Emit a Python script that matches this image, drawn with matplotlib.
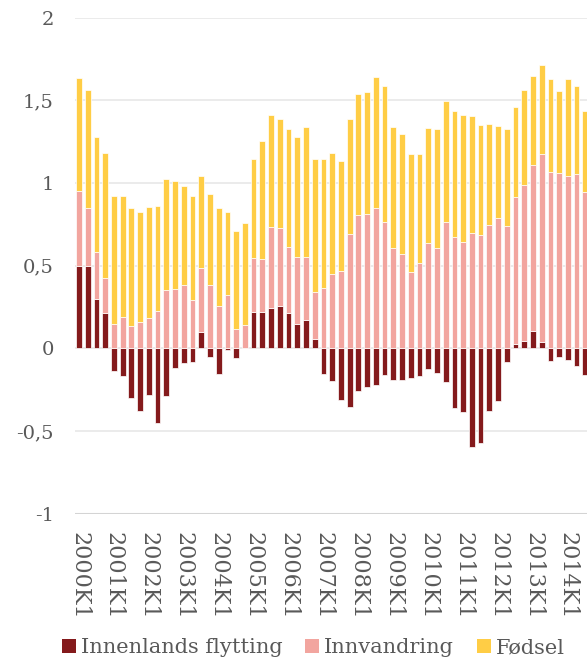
import matplotlib
matplotlib.use("Agg")
import matplotlib.pyplot as plt
from matplotlib.patches import Patch
import numpy as np

# Quarterly contributions to population growth, 2000K1 - 2014K3
years = list(range(2000, 2015))
quarters = [f"{y}K{q}" for y in years for q in (1, 2, 3, 4)][:59]

innenlands = [0.50, 0.50, 0.30, 0.215, -0.14, -0.17, -0.30, -0.38, -0.28, -0.45,
              -0.29, -0.12, -0.09, -0.085, 0.10, -0.05, -0.157, -0.012, -0.06, 0.0,
              0.22, 0.22, 0.244, 0.258, 0.214, 0.15, 0.17, 0.054, -0.155, -0.198,
              -0.315, -0.355, -0.26, -0.232, -0.224, -0.16, -0.194, -0.19, -0.177, -0.167,
              -0.125, -0.151, -0.206, -0.359, -0.387, -0.597, -0.575, -0.379, -0.32, -0.08,
              0.028, 0.046, 0.107, 0.038, -0.077, -0.05, -0.073, -0.105, -0.161]
innvandring = [0.454, 0.35, 0.285, 0.21, 0.145, 0.19, 0.137, 0.157, 0.185, 0.228,
               0.35, 0.36, 0.385, 0.29, 0.383, 0.385, 0.258, 0.32, 0.115, 0.14,
               0.325, 0.322, 0.49, 0.472, 0.397, 0.40, 0.385, 0.287, 0.367, 0.448,
               0.466, 0.69, 0.806, 0.815, 0.85, 0.766, 0.609, 0.573, 0.464, 0.516,
               0.639, 0.609, 0.762, 0.675, 0.643, 0.698, 0.685, 0.748, 0.79, 0.738,
               0.889, 0.94, 1.004, 1.139, 1.067, 1.058, 1.04, 1.056, 0.944]
fodsel = [0.679, 0.71, 0.693, 0.755, 0.778, 0.73, 0.71, 0.666, 0.67, 0.635,
          0.677, 0.65, 0.595, 0.63, 0.56, 0.548, 0.589, 0.506, 0.593, 0.62,
          0.60, 0.714, 0.68, 0.655, 0.718, 0.726, 0.783, 0.802, 0.778, 0.731,
          0.669, 0.70, 0.732, 0.737, 0.79, 0.82, 0.728, 0.725, 0.711, 0.659,
          0.694, 0.718, 0.732, 0.758, 0.768, 0.705, 0.666, 0.611, 0.555, 0.587,
          0.541, 0.577, 0.538, 0.539, 0.562, 0.50, 0.591, 0.531, 0.494]

series_names = ["Innenlands flytting", "Innvandring", "Fødsel"]
colors = ["#841a1c", "#f2a59f", "#ffcd45"]
yticks = [-1, -0.5, 0, 0.5, 1, 1.5, 2]
ytick_labels = ["-1", "-0,5", "0", "0,5", "1", "1,5", "2"]

plt.rcParams["font.family"] = ["DejaVu Serif"]
text_color = "#595959"

fig = plt.figure(figsize=(5.87, 6.59), dpi=100)
ax = fig.add_axes([0.1286, 0.2206, 1 - 0.1286, 0.9731 - 0.2206])

x = np.arange(len(quarters))
inn = np.array(innenlands)
imm = np.array(innvandring)
fod = np.array(fodsel)
base = np.clip(inn, 0, None)

w = 0.66
edge = dict(edgecolor="#ffffff", linewidth=0.5)
ax.bar(x, inn, width=w, color=colors[0], zorder=3, **edge)
ax.bar(x, imm, width=w, bottom=base, color=colors[1], zorder=3, **edge)
ax.bar(x, fod, width=w, bottom=base + imm, color=colors[2], zorder=3, **edge)

ax.set_ylim(-1, 2)
ax.set_xlim(-0.4, 58.19)
ax.set_yticks(yticks)
ax.set_yticklabels(ytick_labels, fontsize=14, color=text_color)
for yv in yticks[1:]:
    ax.axhline(yv, color="#e8e8e8", linewidth=1.2, zorder=1)
ax.axhline(-1, color="#d4d4d4", linewidth=1.5, zorder=1)

tick_pos = x[::4]
ax.set_xticks(tick_pos)
ax.set_xticklabels([quarters[i] for i in tick_pos], rotation=270,
                   fontsize=16, color=text_color, va="top", ha="center")

for s in ax.spines.values():
    s.set_visible(False)
ax.tick_params(axis="both", length=0)
ax.tick_params(axis="y", pad=15.5)
ax.tick_params(axis="x", pad=13)

handles = [Patch(facecolor=c, edgecolor="none") for c in colors]
fig.legend(handles, series_names, loc="center", bbox_to_anchor=(0.534, 0.017),
           ncol=3, frameon=False, fontsize=15, labelcolor=text_color,
           handlelength=0.65, handleheight=0.65, handletextpad=0.25,
           columnspacing=1.1, borderpad=0, borderaxespad=0)

fig.savefig("out.png", dpi=100)
